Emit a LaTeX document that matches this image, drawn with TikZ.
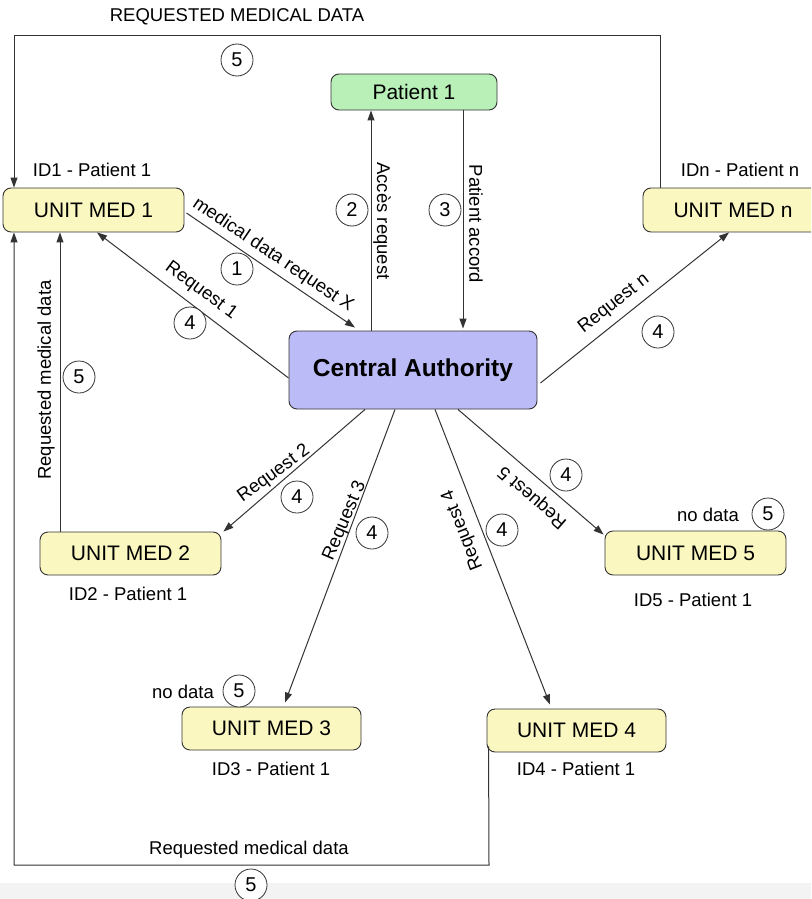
\documentclass[tikz,border=0pt]{standalone}
\usepackage{fontspec}
\setmainfont{Liberation Sans}
\usetikzlibrary{arrows.meta}
\definecolor{umyellow}{HTML}{FAF7C0}
\definecolor{patgreen}{HTML}{B8F0B8}
\definecolor{cablue}{HTML}{BBBBF7}
\definecolor{stripgray}{HTML}{F3F3F3}
\definecolor{linec}{HTML}{333333}
\begin{document}
\begin{tikzpicture}[x=1pt,y=-1pt,
  box/.style={draw=linec, rounded corners=8pt, line width=0.9pt, inner sep=0pt, font=\fontsize{21}{23}\selectfont},
  um/.style={box, fill=umyellow, minimum width=181pt, minimum height=44pt},
  lbl/.style={inner sep=0pt, font=\fontsize{18.5}{20}\selectfont},
  num/.style={circle, draw=linec, fill=white, line width=0.8pt, minimum size=32pt, inner sep=0pt, font=\fontsize{20}{21}\selectfont},
  ln/.style={draw=linec, line width=1pt},
  arr/.style={ln, -{Triangle[length=10pt,width=7pt]}}]
\clip (0,0) rectangle (811,899);
\fill[white] (0,0) rectangle (811,899);
\fill[stripgray] (0,883) rectangle (811,899);

% nodes
\node[um] (UM1) at (93.5,210) {UNIT MED 1};
\node[um, minimum width=180pt] (UMn) at (733,210) {UNIT MED n};
\node[box, fill=patgreen, minimum width=166pt, minimum height=36pt] (Pat) at (414,92) {Patient 1};
\node[box, fill=cablue, minimum width=248pt, minimum height=78pt, font=\fontsize{24.5}{26}\selectfont\bfseries] (CA) at (413,370) {Central Authority};
\node[um, minimum height=43pt] (UM2) at (130.5,553.5) {UNIT MED 2};
\node[um, minimum width=179pt, minimum height=43pt] (UM3) at (271.5,728.5) {UNIT MED 3};
\node[um, minimum width=179pt, minimum height=43pt] (UM4) at (576.5,730.5) {UNIT MED 4};
\node[um] (UM5) at (695.5,553) {UNIT MED 5};

% loop corners
\coordinate (tr) at (660,36);
\coordinate (tl) at (14,36);
\coordinate (br) at (489,865);
\coordinate (bl) at (14,865);

% connectors
\draw[arr] ([xshift=-73pt]UMn.north) -- (tr) -- (tl) -- ([xshift=-79.5pt]UM1.north);
\draw[arr] ([xshift=2pt,yshift=6pt]UM4.south west) -- (br) -- (bl) -- ([xshift=-79.5pt]UM1.south);
\draw[arr] ([xshift=-70.5pt]UM2.north) -- ([xshift=-33.5pt]UM1.south);
\draw[arr] ([xshift=2pt,yshift=-3pt]UM1.east) -- ([xshift=-58pt,yshift=3pt]CA.north);
\draw[arr] ([xshift=-42pt]CA.north) -- ([xshift=-43pt]Pat.south);
\draw[arr] ([xshift=49pt]Pat.south) -- ([xshift=50pt,yshift=2pt]CA.north);
\draw[arr] ([yshift=-8pt]CA.west) -- ([xshift=3.5pt]UM1.south);
\draw[arr] ([xshift=3pt,yshift=-13pt]CA.east) -- ([xshift=-4pt]UMn.south);
\draw[arr] ([xshift=-48pt]CA.south) -- ([xshift=2pt]UM2.north east);
\draw[arr] ([xshift=-18pt]CA.south) -- ([xshift=13.5pt,yshift=4pt]UM3.north);
\draw[arr] ([xshift=22pt]CA.south) -- ([xshift=-26.5pt,yshift=4pt]UM4.north);
\draw[arr] ([xshift=45pt]CA.south) -- ([xshift=-1pt,yshift=-4pt]UM5.north west);

% labels
\node[lbl] (t0) at (237,17) {REQUESTED MEDICAL DATA};
\node[num] (c0) at (237,60) {5};
\node[lbl] (t1) at (92,170) {ID1 - Patient 1};
\node[lbl] (tn) at (740,170) {IDn - Patient n};
\node[lbl, rotate=-34] (t2) at (273,255) {medical data request X};
\node[num] (c1) at (237,269) {1};
\node[lbl, rotate=-36.5] (t3) at (201,291) {Request 1};
\node[num] (c2) at (190,323) {4};
\node[lbl, rotate=-90] (t4) at (382,221) {Accès request};
\node[num] (c3) at (352,210) {2};
\node[lbl, rotate=-90] (t5) at (476,224) {Patient accord};
\node[num] (c4) at (445,210) {3};
\node[lbl, rotate=38] (t6) at (614,304) {Request n};
\node[num] (c5) at (658,332) {4};
\node[lbl, rotate=90] (t7) at (46,380) {Requested medical data};
\node[num] (c6) at (79,377) {5};
\node[lbl, rotate=36] (t8) at (274,474) {Request 2};
\node[num] (c7) at (297,497) {4};
\node[lbl, rotate=67] (t9) at (345,521) {Request 3};
\node[num] (c8) at (372,533) {4};
\node[lbl, rotate=111.5] (t10) at (463,530) {Request 4};
\node[num] (c9) at (502,530) {4};
\node[lbl, rotate=139] (t11) at (533,497) {Request 5};
\node[num] (c10) at (566,475) {4};
\node[lbl] (t12) at (708,515) {no data};
\node[num] (c11) at (768,514) {5};
\node[lbl] (t13) at (128,594) {ID2 - Patient 1};
\node[lbl] (t14) at (693,600) {ID5 - Patient 1};
\node[lbl] (t15) at (183,692) {no data};
\node[num] (c12) at (239,691) {5};
\node[lbl] (t16) at (271,769) {ID3 - Patient 1};
\node[lbl] (t17) at (576,769) {ID4 - Patient 1};
\node[lbl] (t18) at (249,850) {Requested medical data};
\node[num] (c13) at (251,885) {5};
\end{tikzpicture}
\end{document}
